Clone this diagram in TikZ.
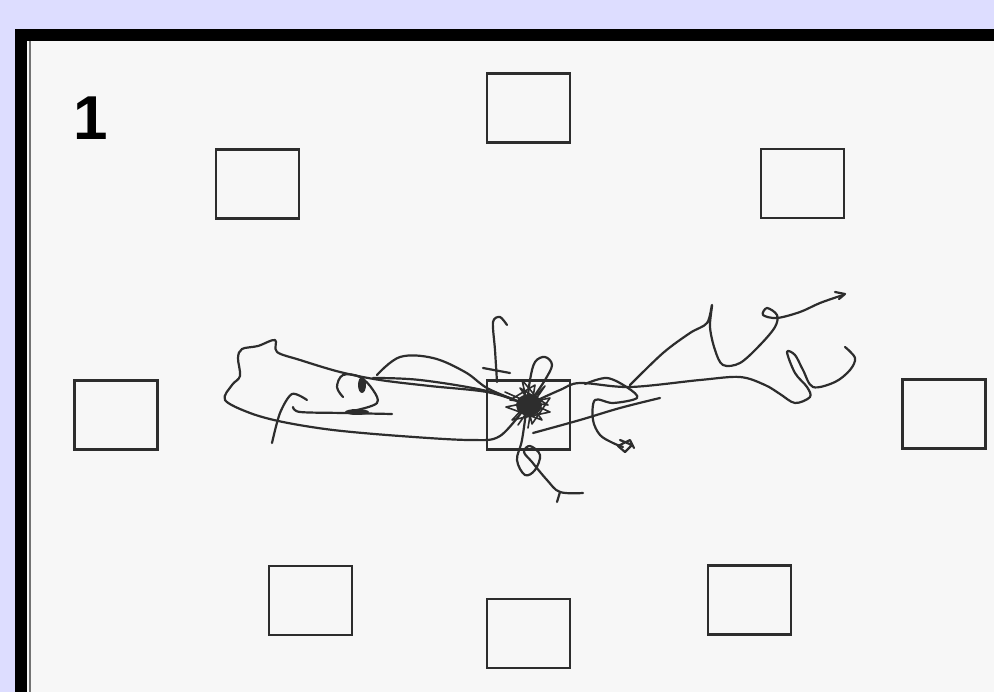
\documentclass[tikz,border=0pt]{standalone}
\usepackage{fontspec}
\newfontfamily\labelfont{Liberation Sans}
\definecolor{lavender}{RGB}{221,221,255}
\definecolor{paper}{RGB}{247,247,247}
\definecolor{ink}{RGB}{45,45,45}
\usepackage{tikz}
\usetikzlibrary{positioning}

\begin{document}
\begin{tikzpicture}[
        x=1pt, y=-1pt,
        target/.style={rectangle, draw=ink, line width=2.6pt,
                       minimum width=83pt, minimum height=69pt, inner sep=0pt},
        track/.style={ink, line width=2.2pt, line cap=round, line join=round},
        panel/.style={font=\labelfont\bfseries\fontsize{62}{62}\selectfont, inner sep=0pt}
    ]
        \useasboundingbox (0,0) rectangle (994,692);
        \clip (0,0) rectangle (994,692);
        % frame
        \fill[lavender] (0,0) rectangle (994,692);
        \fill[black] (15,29) rectangle (1000,700);
        \fill[paper] (27,41) rectangle (1000,700);
        \draw[black!55, line width=2pt] (30,41) -- (30,700);

        \node[panel] (num) at (91,118) {1};

        % targets
        \node[target] (tgtN)  at (528.5,108) {};
        \node[target] (tgtNW) at (257.5,184) {};
        \node[target] (tgtNE) at (802.5,183.5) {};
        \node[target] (tgtW)  at (116,415) {};
        \node[target] (tgtC)  at (528.5,415) {};
        \node[target] (tgtE)  at (944,414) {};
        \node[target] (tgtSW) at (310.5,600.5) {};
        \node[target] (tgtS)  at (528.5,633.5) {};
        \node[target] (tgtSE) at (749.5,600) {};

        % path of the animal
        \draw[track] plot[smooth, tension=0.55] coordinates {
            (527,405) (500,436) (470,440) (400,436) (333,430) (283,422)
            (250,413) (225,400) (232,385) (240,376) (238,358) (242,349)
            (258,346) (275,340) (277,352) (300,360) (340,372) (380,380)
            (430,386) (487,392) (520,402)};
        \draw[track] plot[smooth, tension=0.5] coordinates {
            (272,443) (280,413) (292,394) (307,400)};
        \draw[track] plot[smooth, tension=0.5] coordinates {
            (293,407) (300,412) (343,413) (392,414)};
        \draw[track] plot[smooth, tension=0.6] coordinates {
            (343,397) (337,387) (343,375) (360,377) (373,390) (377,403) (357,410)};
        \fill[ink] (357,412) ellipse (12pt and 3pt);
        \fill[ink] (362,385) ellipse (4pt and 8pt);
        \draw[track] plot[smooth, tension=0.6] coordinates {
            (377,375) (400,357) (433,358) (465,372) (487,388) (515,400)};
        \draw[track] plot[smooth, tension=0.6] coordinates {
            (373,378) (420,380) (487,391) (527,405)};
        \draw[track] plot[smooth, tension=0.5] coordinates {
            (497,382) (495,350) (493,322) (500,317) (507,325)};
        \draw[track] (483,368) -- (510,373);
        % centre scribble
        \draw[track, line width=1.6pt] plot coordinates {
            (505,392) (550,412) (512,420) (545,386) (518,425) (537,398)
            (522,380) (532,424) (550,398) (506,407) (542,420) (520,388)
            (548,405) (510,400) (535,385) (528,428)};
        \fill[ink] (529,405) ellipse (13pt and 11pt);
        \draw[track] plot[smooth, tension=0.6] coordinates {
            (527,405) (530,380) (535,362) (545,357) (552,365) (545,380) (535,395)};
        \draw[track] plot[smooth, tension=0.6] coordinates {
            (527,405) (522,440) (517,460) (525,475) (535,470) (540,455)
            (530,446) (524,452) (532,462) (547,480) (560,492) (583,493)};
        \draw[track] (560,492) -- (557,502);
        % right part
        \draw[track] plot[smooth, tension=0.6] coordinates {
            (533,433) (580,420) (620,408) (660,398)};
        \draw[track] plot[smooth, tension=0.55] coordinates {
            (527,405) (560,390) (580,383) (630,387) (700,380) (740,377)
            (765,385) (780,394) (795,403) (810,397) (807,387) (795,373)
            (787,352) (795,355) (803,370) (813,387) (835,382) (850,370)
            (855,358) (845,347)};
        \draw[track] plot[smooth, tension=0.55] coordinates {
            (630,385) (663,353) (690,333) (707,323) (712,305) (710,327)
            (715,350) (723,365) (740,363) (760,345) (775,327) (777,315)
            (767,308) (763,315) (777,318) (800,312) (820,303) (843,295)};
        \draw[track] (835,292) -- (845,294) -- (839,299);
        \draw[track] plot[smooth, tension=0.55] coordinates {
            (585,384) (607,378) (628,388) (637,398) (613,403) (595,400)
            (593,420) (600,435) (613,443) (623,447)};
        \draw[track] plot coordinates {
            (620,440) (632,445) (625,452) (618,446) (630,440) (634,448)};
\end{tikzpicture}
\end{document}
